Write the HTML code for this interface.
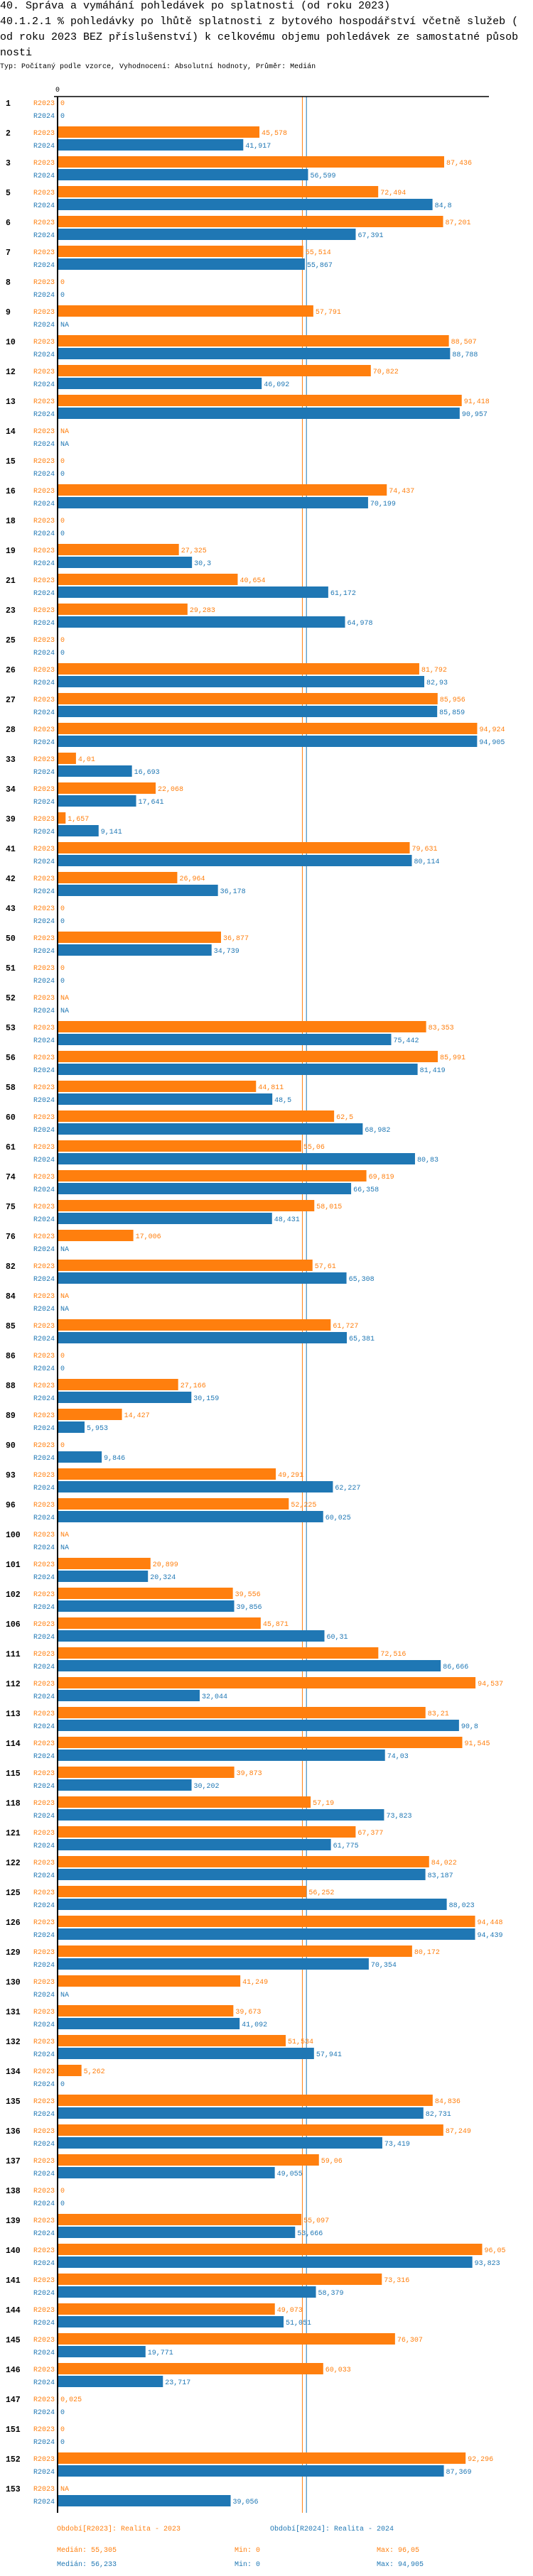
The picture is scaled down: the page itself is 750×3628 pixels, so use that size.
<!DOCTYPE html>
<html><head><meta charset="utf-8">
<style>
html,body{margin:0;padding:0;background:#fff;}
body{width:750px;height:3628px;overflow:hidden;position:relative;font-family:"Liberation Mono","DejaVu Sans Mono",monospace;}
.t{position:absolute;left:0;white-space:nowrap;color:#000;}
.h{font-size:15px;line-height:22px;}
svg text{font-family:"Liberation Mono","DejaVu Sans Mono",monospace;}
</style></head>
<body>
<div class="t h" style="top:-2px">40. Správa a vymáhání pohledávek po splatnosti (od roku 2023)</div>
<div class="t h" style="top:20px">40.1.2.1 % pohledávky po lhůtě splatnosti z bytového hospodářství včetně služeb (</div>
<div class="t h" style="top:42px">od roku 2023 BEZ příslušenství) k celkovému objemu pohledávek ze samostatné působ</div>
<div class="t h" style="top:64px">nosti</div>
<div class="t" style="top:89px;font-size:10px">Typ: Počítaný podle vzorce, Vyhodnocení: Absolutní hodnoty, Průměr: Medián</div>
<svg id="chart" width="750" height="3628" style="position:absolute;left:0;top:0"></svg>
<script>
const categories=["1","2","3","5","6","7","8","9","10","12","13","14","15","16","18","19","21","23","25","26","27","28","33","34","39","41","42","43","50","51","52","53","56","58","60","61","74","75","76","82","84","85","86","88","89","90","93","96","100","101","102","106","111","112","113","114","115","118","121","122","125","126","129","130","131","132","134","135","136","137","138","139","140","141","144","145","146","147","151","152","153"];
const r2023=[0,45.578,87.436,72.494,87.201,55.514,0,57.791,88.507,70.822,91.418,null,0,74.437,0,27.325,40.654,29.283,0,81.792,85.956,94.924,4.01,22.068,1.657,79.631,26.964,0,36.877,0,null,83.353,85.991,44.811,62.5,55.06,69.819,58.015,17.006,57.61,null,61.727,0,27.166,14.427,0,49.291,52.225,null,20.899,39.556,45.871,72.516,94.537,83.21,91.545,39.873,57.19,67.377,84.022,56.252,94.448,80.172,41.249,39.673,51.534,5.262,84.836,87.249,59.06,0,55.097,96.05,73.316,49.073,76.307,60.033,0.025,0,92.296,null];
const r2024=[0,41.917,56.599,84.8,67.391,55.867,0,null,88.788,46.092,90.957,null,0,70.199,0,30.3,61.172,64.978,0,82.93,85.859,94.905,16.693,17.641,9.141,80.114,36.178,0,34.739,0,null,75.442,81.419,48.5,68.982,80.83,66.358,48.431,null,65.308,null,65.381,0,30.159,5.953,9.846,62.227,60.025,null,20.324,39.856,60.31,86.666,32.044,90.8,74.03,30.202,73.823,61.775,83.187,88.023,94.439,70.354,null,41.092,57.941,0,82.731,73.419,49.055,0,53.666,93.823,58.379,51.051,19.771,23.717,0,0,87.369,39.056];
const seriesNames=["R2023","R2024"];
const seriesColors=["#ff7f0e","#1f77b4"];
const medians=[55.305,56.233];
const mins=[0,0];
const maxs=[96.05,94.905];

const svg=document.getElementById('chart');
const NS='http://www.w3.org/2000/svg';
const X0=82, SCALE=6.21, TOP=136, PITCH=42;
function xs(v){return X0+v*SCALE;}
function gy(i){return TOP+i*PITCH;}
function fmt(v){return v===null?'NA':String(v).replace('.',',');}
function mk(tag,attrs,txt){const e=document.createElementNS(NS,tag);for(const k in attrs)e.setAttribute(k,attrs[k]);if(txt!==undefined)e.textContent=txt;svg.appendChild(e);return e;}

const endY=gy(categories.length-1)+43;
seriesColors.forEach((c,s)=>{
  const l=mk('line',{x1:xs(medians[s]),x2:xs(medians[s]),y1:TOP,y2:endY,stroke:c,'stroke-width':1});
  
  
});
categories.forEach((cat,i)=>{
  const y=gy(i);
  const g=mk('text',{x:8,y:y+13,'font-size':'11.5','font-weight':'bold',fill:'#000'},cat);
  
  
  [r2023,r2024].forEach((arr,s)=>{
    const v=arr[i];
    const by=y+s*18;
    const lab=mk('text',{x:77,y:by+12,'font-size':'10','text-anchor':'end',fill:seriesColors[s]},seriesNames[s]);
    
    
    let endx=X0;
    if(v!==null&&v>0){
      const b=mk('rect',{x:X0,y:by,width:xs(v)-X0,height:16,fill:seriesColors[s]});
      
      
      endx=xs(v);
    }
    const vt=mk('text',{x:endx+3,y:by+12,'font-size':'10',fill:seriesColors[s]},fmt(v));
    
    
  });
});
const ax=mk('line',{x1:76,x2:688,y1:TOP,y2:TOP,stroke:'#000','stroke-width':1.5});


const ay=mk('line',{x1:81,x2:81,y1:TOP,y2:endY,stroke:'#000','stroke-width':2});


const z=mk('text',{x:78,y:129,'font-size':'10',fill:'#000'},'0');


const legX=[80,380];
const legText=["Období[R2023]: Realita - 2023","Období[R2024]: Realita - 2024"];
seriesColors.forEach((c,s)=>{
  const t=mk('text',{x:legX[s],y:3564,'font-size':'10',fill:c},legText[s]);
  
  
  const yy=3594+s*20;
  const m=mk('text',{x:80,y:yy,'font-size':'10',fill:c},'Medián: '+fmt(medians[s]));
  
  
  const mi=mk('text',{x:330,y:yy,'font-size':'10',fill:c},'Min: '+fmt(mins[s]));
  
  
  const ma=mk('text',{x:530,y:yy,'font-size':'10',fill:c},'Max: '+fmt(maxs[s]));
  
  
});
</script>
</body></html>
